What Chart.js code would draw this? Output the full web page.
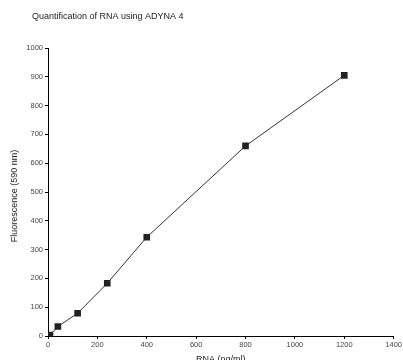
<!DOCTYPE html>
<html><head><meta charset="utf-8">
<script src="https://cdn.jsdelivr.net/npm/chart.js@4/dist/chart.umd.min.js"></script>
<style>html,body{margin:0;padding:0;background:#fff}#wrap{width:403px;height:360px}</style>
</head><body><div id="wrap"><canvas id="c" width="403" height="360"></canvas></div>
<script>
const chartTitle = 'Quantification of RNA using ADYNA 4';
const xTitle = 'RNA (ng/ml)';
const yTitle = 'Fluorescence (590 nm)';
const rnaConc = [8, 40, 120, 240, 400, 800, 1200];
const fluorescence = [3, 33, 79, 183, 343, 660, 905];

const FONT = 'Liberation Sans, Arial, sans-serif';
const titlePlugin = {
  id: 'leftTitle',
  afterDraw(chart) {
    const ctx = chart.ctx;
    ctx.save();
    ctx.font = '9px ' + FONT;
    ctx.fillStyle = '#222';
    ctx.textBaseline = 'middle';
    ctx.textAlign = 'left';
    ctx.fillText(chartTitle, 32, 17);
    ctx.translate(15, 196);
    ctx.rotate(-Math.PI / 2);
    ctx.textAlign = 'center';
    ctx.fillText(yTitle, 0, 0);
    ctx.restore();
  }
};

new Chart(document.getElementById('c'), {
  type: 'scatter',
  data: {
    datasets: [{
      data: rnaConc.map((x, i) => ({x, y: fluorescence[i]})),
      showLine: true,
      borderColor: '#333',
      borderWidth: 1,
      backgroundColor: '#222',
      pointStyle: 'rect',
      pointRadius: 4.7,
      pointBorderColor: '#222',
      pointBorderWidth: 0,
      pointHoverRadius: 4.7
    }]
  },
  options: {
    responsive: false,
    animation: false,
    layout: {padding: {left: 8, top: 48, right: 8, bottom: 0}},
    plugins: {legend: {display: false}, tooltip: {enabled: false}, title: {display: false}},
    scales: {
      x: {
        type: 'linear', min: 0, max: 1400,
        ticks: {stepSize: 200, font: {size: 7.5, family: FONT}, color: '#444', padding: 1, maxRotation: 0, callback: v => String(v)},
        grid: {drawOnChartArea: false, drawTicks: true, tickLength: 3, color: '#000'},
        border: {display: true, color: '#000', width: 1},
        title: {display: true, text: xTitle, font: {size: 9, family: FONT}, color: '#222', padding: {top: 0, bottom: -5}},
        afterFit(s) { s.height = 24; }
      },
      y: {
        type: 'linear', min: 0, max: 1000,
        ticks: {stepSize: 100, font: {size: 7.5, family: FONT}, color: '#444', padding: 2, callback: v => String(v)},
        grid: {drawOnChartArea: false, drawTicks: true, tickLength: 3, color: '#000'},
        border: {display: true, color: '#000', width: 1},
        title: {display: false},
        afterFit(s) { s.width = 40; }
      }
    }
  },
  plugins: [titlePlugin]
});
</script></body></html>
